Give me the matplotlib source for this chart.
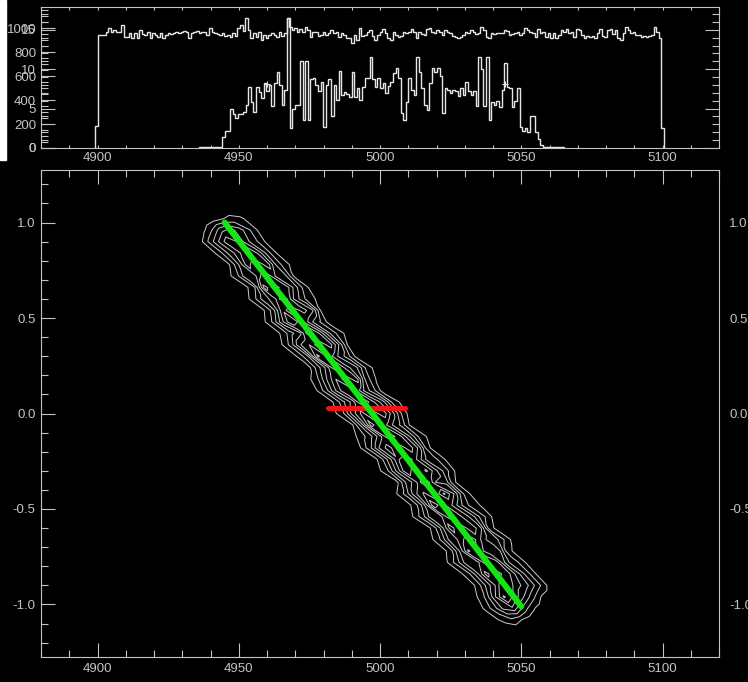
import numpy as np
import matplotlib
matplotlib.use("Agg")
import matplotlib.pyplot as plt
from matplotlib.ticker import MultipleLocator, FormatStrFormatter
from matplotlib.patches import Rectangle

# ---------------------------------------------------------------- data
BIN_WIDTH = 0.915

# continuum-window counts (left axis, 0..1000 scale)
FLUX_START = 4899.2
flux_counts = [
    180,
    944, 944, 944, 972, 1000, 972, 986, 966, 972, 1027,
    930, 930, 958, 916, 958, 916, 986, 950, 944, 972,
    916, 958, 944, 930, 958, 916, 944, 958, 950, 958,
    966, 958, 972, 977, 972, 916, 958, 972, 977, 958,
    966, 972, 944, 1000, 972, 958, 950, 944, 958, 938,
    944, 930, 958, 938, 1000, 1027, 977, 1083, 986, 916,
    958, 930, 972, 902, 944, 916, 944, 958, 944, 930, 966, 938,
    958,
    1083, 1014, 986, 1000, 972, 994, 972, 1014, 986, 930,
    972, 972, 938, 944, 972, 944, 958, 986, 958, 972,
    930, 958, 944, 916, 916, 874, 944, 902, 1000, 938,
    944, 972, 986, 938, 902, 944, 972, 994, 958, 916,
    902, 972, 944, 930, 938, 972, 958, 972, 994, 972,
    916, 966, 950, 944, 994, 1005, 972, 958, 986, 966,
    944, 986, 972, 958, 938, 930, 916, 930, 944, 966,
    958, 986, 972, 950,
    958, 1014, 986, 930, 916, 958, 950, 958, 958, 958,
    986, 977, 944, 950, 958, 966, 944, 958, 1000, 986,
    972, 958, 930, 994, 958, 972, 930, 958, 916, 958,
    916, 944, 986, 972, 994, 958, 972, 930, 994, 986,
    944, 916, 938, 930, 938, 916, 958, 994, 938, 930,
    986, 994, 950, 986, 916, 902, 958, 1014, 986, 958,
    972, 944, 944, 930, 938, 930, 938, 944, 1014, 972,
    916,
    165,
]

# line-window counts (second axis, 0..15 scale)
LINE_START = 4935.97
line_counts = [
    0.10, 0.15, 0.10, 0.15, 0.15, 0.10, 0.15, 0.10, 0.15,
    1.4, 2.2, 2.2, 5.0, 4.3, 3.8, 4.3, 4.3, 4.6, 5.5,
    7.8, 5.9, 4.6, 7.8, 7.1, 6.4, 8.3, 7.2, 8.0, 5.3,
    8.3, 9.6, 8.0, 5.5,
    7.4, 16.5, 2.5, 5.0, 5.5, 5.5, 11.0, 3.5, 11.0, 3.5,
    8.7, 8.9, 8.0, 7.2, 8.4, 2.7, 8.0, 8.8, 4.1, 8.0,
    6.1, 9.8, 6.7, 7.1, 6.9, 6.5, 9.6, 6.5, 7.6, 6.1,
    7.8, 8.9, 8.9, 11.5, 8.8, 7.8, 8.9, 7.6, 8.2, 7.0,
    7.9, 8.4, 9.5, 10.2, 8.9, 4.4, 3.55, 5.8, 8.9, 7.4,
    6.7, 11.5, 9.7, 7.6, 5.5, 4.8, 8.2, 10.1, 9.7, 10.1,
    9.2, 4.4, 7.6, 7.4, 7.0, 7.4, 7.2, 6.6, 7.6, 6.7,
    8.4, 7.2, 6.7, 7.2, 5.3,
    11.6, 10.0, 5.3, 11.6, 3.55, 5.8, 5.4, 6.0, 5.2, 7.4,
    10.8, 7.8, 7.6, 5.2, 6.0, 7.6, 2.7, 2.1, 2.5, 2.05,
    4.1, 4.1, 2.0, 1.1, 0.4,
    0.15, 0.10, 0.15, 0.15, 0.10, 0.15, 0.10, 0.15,
]

# centroid marks on the line-window histogram
mark_x = [4960.0, 5044.2]
mark_y = [8.1, 8.1]

# fitted dispersion line and the centre bar
fit_x = [4945.0, 5050.0]
fit_y = [1.0, -1.01]
bar_x = [4981.6, 5008.8]
bar_y = [0.028, 0.028]

# intensity across the tilted band, one row per y step,
# columns at fixed wavelength offsets from the fitted line
band_y = [1.02, 0.96, 0.90, 0.84, 0.78, 0.72, 0.66, 0.60, 0.54, 0.48,
          0.42, 0.36, 0.30, 0.24, 0.18, 0.12, 0.06, 0.00, -0.06, -0.12,
          -0.18, -0.24, -0.30, -0.36, -0.42, -0.48, -0.54, -0.60, -0.66, -0.72,
          -0.78, -0.84, -0.90, -0.96, -1.02, -1.08]
band_offsets = [-17.0, -13.5, -10.0, -7.0, -3.5, 0.0, 3.5, 7.0, 10.0, 13.5, 17.0]
band_values = [
    [0.0, 0.0, 0.0, 0.3, 0.9, 1.4, 1.2, 0.5, 0.0],
    [0.0, 0.6, 1.8, 3.6, 4.4, 3.4, 2.0, 0.8, 0.0],
    [0.8, 2.6, 4.2, 6.0, 4.6, 3.0, 1.8, 0.6, 0.0],
    [0.4, 1.6, 3.2, 4.6, 6.4, 4.8, 2.4, 1.0, 0.2],
    [0.2, 0.9, 2.6, 5.6, 3.6, 5.8, 2.6, 1.4, 0.4],
    [0.6, 1.8, 3.8, 4.0, 6.2, 3.8, 3.2, 0.8, 0.1],
    [0.1, 0.8, 2.0, 6.6, 4.2, 6.0, 3.6, 1.8, 0.3],
    [0.5, 1.9, 3.6, 4.4, 7.2, 4.0, 2.2, 1.2, 0.6],
    [0.2, 1.0, 2.4, 5.8, 3.6, 5.6, 4.2, 0.9, 0.2],
    [0.7, 2.2, 4.6, 7.0, 5.4, 3.2, 1.8, 0.5, 0.0],
    [0.3, 1.2, 2.6, 3.8, 7.6, 5.8, 3.0, 1.6, 0.5],
    [0.8, 2.4, 4.8, 6.0, 4.2, 6.8, 4.0, 1.0, 0.2],
    [0.2, 1.4, 3.0, 7.2, 5.8, 4.0, 2.4, 0.7, 0.0],
    [0.0, 0.6, 2.4, 4.4, 7.8, 5.4, 4.2, 2.0, 0.6],
    [0.6, 1.8, 3.8, 6.0, 4.4, 7.0, 2.8, 1.2, 0.2],
    [0.9, 2.6, 4.8, 6.8, 6.2, 3.8, 2.2, 0.5, 0.0],
    [0.3, 1.2, 2.8, 4.6, 8.0, 6.2, 4.4, 2.0, 0.7],
    [0.7, 2.0, 4.4, 6.4, 4.6, 7.0, 4.6, 2.2, 0.4],
    [0.2, 1.0, 3.4, 7.4, 6.0, 4.2, 2.8, 1.0, 0.1],
    [0.5, 1.6, 2.6, 4.6, 7.6, 6.4, 4.0, 2.0, 0.8],
    [1.0, 2.8, 5.0, 6.6, 4.4, 6.8, 4.8, 1.4, 0.2],
    [0.3, 1.2, 3.2, 5.8, 7.0, 4.8, 2.6, 2.2, 0.9],
    [0.7, 2.0, 4.2, 7.0, 4.8, 6.2, 4.2, 2.6, 1.0],
    [0.1, 0.8, 3.0, 4.6, 7.4, 4.0, 3.8, 1.2, 0.3],
    [0.9, 2.4, 4.6, 6.2, 5.0, 7.2, 5.0, 2.2, 0.6],
    [0.4, 1.4, 3.4, 7.6, 6.4, 4.8, 2.8, 1.6, 0.9],
    [1.1, 2.8, 4.8, 5.0, 7.4, 6.0, 4.6, 2.8, 1.2],
    [0.3, 1.2, 3.2, 6.6, 4.6, 7.0, 5.2, 1.6, 0.4],
    [0.8, 2.2, 4.4, 5.2, 7.2, 5.2, 3.4, 3.0, 1.4],
    [0.4, 1.4, 3.8, 7.2, 5.6, 4.4, 4.8, 1.6, 0.5],
    [1.2, 3.0, 4.8, 4.6, 7.0, 6.4, 3.2, 2.4, 1.0],
    [0.5, 1.6, 3.4, 6.4, 5.0, 6.8, 4.8, 3.0, 1.2],
    [0.3, 1.2, 3.0, 5.0, 7.6, 5.6, 4.6, 3.2, 1.6],
    [0.8, 2.2, 4.6, 7.2, 5.8, 4.0, 2.2, 0.8, 0.2],
    [1.2, 2.6, 4.2, 4.8, 2.8, 1.2, 0.3, 0.0, 0.0],
    [0.6, 1.4, 1.8, 1.0, 0.3, 0.0, 0.0, 0.0, 0.0],
]
band_levels = [1, 2, 3, 4, 5, 6, 7]

# ---------------------------------------------------------------- style
FG = "#c4c4c4"
HIST = "#e6e6e6"
plt.rcParams.update({
    "font.family": ["Liberation Sans", "DejaVu Sans"],
    "font.size": 9.5,
    "text.color": FG,
    "axes.edgecolor": FG,
    "axes.linewidth": 0.8,
    "axes.facecolor": "black",
    "axes.unicode_minus": False,
    "xtick.color": FG,
    "ytick.color": FG,
    "xtick.major.width": 0.8,
    "ytick.major.width": 0.8,
    "xtick.minor.width": 0.8,
    "ytick.minor.width": 0.8,
})

W, H = 748, 682
fig = plt.figure(figsize=(W / 100, H / 100), dpi=100, facecolor="black")


def box(left, top, right, bottom):
    return [left / W, 1 - bottom / H, (right - left) / W, (bottom - top) / H]


fig.patches.append(Rectangle((0, 1 - 160 / H), 6 / W, 160 / H,
                             transform=fig.transFigure, color="white", zorder=0))

XLIM = (4880, 5120)

# ---------------------------------------------------------------- histograms
ax_top = fig.add_axes(box(41, 7, 719, 148))
ax_top.set_facecolor("black")
flux_edges = FLUX_START + BIN_WIDTH * np.arange(len(flux_counts) + 1)
ax_top.stairs(flux_counts, flux_edges, baseline=0, color=HIST, lw=1.0)
ax_top.set_xlim(*XLIM)
ax_top.set_ylim(0, 1178)
ax_top.xaxis.set_major_locator(MultipleLocator(50))
ax_top.xaxis.set_minor_locator(MultipleLocator(10))
ax_top.yaxis.set_major_locator(MultipleLocator(200))
ax_top.yaxis.set_minor_locator(MultipleLocator(50))
ax_top.yaxis.set_major_formatter(FormatStrFormatter("%d"))
ax_top.tick_params(axis="x", which="both", direction="in", top=True, bottom=True,
                   length=2.2, pad=3, labelsize=9.5)
ax_top.tick_params(axis="y", which="major", direction="in", left=True, right=True,
                   length=10, pad=3.5, labelsize=9.5)
ax_top.tick_params(axis="y", which="minor", direction="in", left=True, right=True,
                   length=5)

ax_line = ax_top.twinx()
line_edges = LINE_START + BIN_WIDTH * np.arange(len(line_counts) + 1)
ax_line.stairs(line_counts, line_edges, baseline=0, color=HIST, lw=1.0)
ax_line.plot(mark_x, mark_y, "+", color=HIST, ms=5, mew=0.8)
ax_line.set_ylim(0, 17.9)
ax_line.yaxis.set_major_locator(MultipleLocator(5))
ax_line.yaxis.set_minor_locator(MultipleLocator(1))
ax_line.yaxis.set_major_formatter(FormatStrFormatter("%d"))
ax_line.tick_params(axis="y", which="major", direction="in", left=True, right=True,
                    labelleft=True, labelright=False, length=10, pad=3.5,
                    labelsize=9.5)
ax_line.tick_params(axis="y", which="minor", direction="in", left=True, right=True,
                    length=5)
for sp in ax_line.spines.values():
    sp.set_visible(False)

# ---------------------------------------------------------------- band contours
ax = fig.add_axes(box(41, 170, 719, 657))
ax.set_facecolor("black")

slope = (fit_x[1] - fit_x[0]) / (fit_y[1] - fit_y[0])
rows = np.array(band_y)
step = rows[1] - rows[0]
rows = np.concatenate([[rows[0] - step], rows, [rows[-1] + step]])
Z = np.pad(np.array(band_values, dtype=float), 1)
T, Y = np.meshgrid(band_offsets, rows)
X = fit_x[0] + (Y - fit_y[0]) * slope + T
ax.contour(X, Y, Z, levels=band_levels, colors="#cccccc", linewidths=0.7,
           zorder=2)

ax.plot(bar_x, bar_y, color="#f01414", lw=3.6, solid_capstyle="round", zorder=3)
ax.plot(fit_x, fit_y, color="#14e614", lw=4.3, solid_capstyle="round", zorder=4)

YLIM = (-1.275, 1.275)
ax.set_xlim(*XLIM)
ax.set_ylim(*YLIM)
ax.xaxis.set_major_locator(MultipleLocator(50))
ax.xaxis.set_minor_locator(MultipleLocator(10))
ax.yaxis.set_major_locator(MultipleLocator(0.5))
ax.yaxis.set_minor_locator(MultipleLocator(0.1))
ax.yaxis.set_major_formatter(FormatStrFormatter("%.1f"))
ax.tick_params(axis="both", which="major", direction="in", top=True, bottom=True,
               left=True, right=True, length=10, labelsize=9.5, pad=4)
ax.tick_params(axis="both", which="minor", direction="in", top=True, bottom=True,
               left=True, right=True, length=5)

# right-hand value labels, set a little further out than the left ones
ax_r = ax.twinx()
ax_r.set_ylim(*YLIM)
ax_r.yaxis.set_major_locator(MultipleLocator(0.5))
ax_r.yaxis.set_major_formatter(FormatStrFormatter("%.1f"))
ax_r.yaxis.set_minor_locator(MultipleLocator(0.1))
ax_r.tick_params(axis="y", which="both", left=False, right=True, length=0,
                 labelright=True, labelleft=False, pad=7.2, labelsize=9.5)
for sp in ax_r.spines.values():
    sp.set_visible(False)

fig.savefig("out.png", dpi=100, facecolor="black")
